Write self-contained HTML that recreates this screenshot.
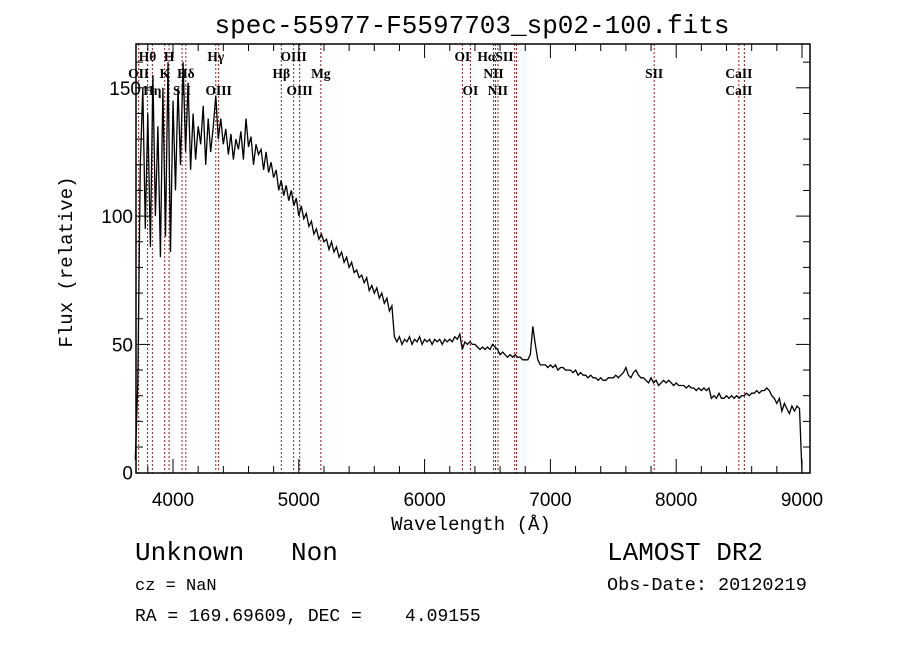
<!DOCTYPE html>
<html><head><meta charset="utf-8"><style>
html,body{margin:0;padding:0;background:#fff;}
svg{display:block;}
.mono{font-family:"Liberation Mono",monospace;}
.lbl{font-family:"Liberation Serif",serif;font-size:13.5px;fill:#000;font-weight:bold;}
</style></head><body>
<svg id="chart" width="900" height="649" viewBox="0 0 900 649" xmlns="http://www.w3.org/2000/svg">
<rect width="900" height="649" fill="#fff"/>
<text x="472" y="33" text-anchor="middle" class="mono" font-size="26">spec-55977-F5597703_sp02-100.fits</text>
<g id="lines"></g>
<g id="labels"></g>
<g id="series"></g>
<g id="axes"></g>
<text x="471" y="530" text-anchor="middle" class="mono" font-size="19">Wavelength (Å)</text>
<text x="0" y="0" transform="translate(72,262) rotate(-90)" text-anchor="middle" class="mono" font-size="19">Flux (relative)</text>
<text x="135" y="560" class="mono" font-size="26" style="white-space:pre">Unknown   Non</text>
<text x="135" y="590" class="mono" font-size="17" style="white-space:pre">cz = NaN</text>
<text x="135" y="621" class="mono" font-size="18" style="white-space:pre">RA = 169.69609, DEC =    4.09155</text>
<text x="607" y="560" class="mono" font-size="26">LAMOST DR2</text>
<text x="607" y="590" class="mono" font-size="18.5">Obs-Date: 20120219</text>
</svg>
<script>
const waveStart = 3700;
const waveStep = 20;
const flux = [5,35,120,150,95,140,88,155,100,135,84,150,92,160,86,
145,110,150,120,160,125,152,118,140,122,135,128,143,120,138,125,135,147,130,138,
128,134,124,132,122,130,126,133,122,138,127,131,120,128,124,126,118,125,117,121,115,118,110,114,108,112,106,110,104,107,
100,104,99,101,96,98,93,95,91,93,90,91,87,90,86,88,84,86,82,84,80,82,78,79,76,77,74,76,71,73,70,72,68,70,66,68,63,65,53,51,
53,50,52,51,53,50,52,51,53,50,52,51,52,50,52,51,52,50,52,51,52,51,53,52,54,48,51,50,51,50,
50,49,48,49,48,49,48,50,49,48,46,47,46,45,46,45,46,45,45,44,44,44,46,57,50,44,42,42,42,41,
42,41,42,40,41,41,40,40,40,39,40,38,39,38,38,37,38,37,37,36,37,36,36,37,37,37,38,37,38,39,
41,38,37,39,40,38,37,37,36,35,37,35,36,34,35,36,35,36,35,34,35,34,34,34,33,34,33,33,32,33,
32,33,32,33,29,30,29,31,29,29,30,29,30,29,30,29,30,30,31,30,31,31,32,31,32,32,33,32,30,29,
27,29,24,27,25,23,26,24,26,25,0];
const lineWaves = [3727,3798,3836,3934,3969,4072,4102,4340,4363,4861,4959,5007,5175,6300,6364,6548,6563,6583,6716,6731,7825,8498,8542];
const labelText = ["Hθ","H","Hγ","OIII","OI","HαSII","OII","K","Hδ","Hβ","Mg","NII","SII","CaII","Hη","SII","OIII","OIII","OI","NII","CaII"];
const labelWave = [3798,3969,4340,4959,6300,6563,3727,3934,4102,4861,5175,6548,7825,8498,3836,4072,4363,5007,6364,6583,8498];
const labelRow = [0,0,0,0,0,0,1,1,1,1,1,1,1,1,2,2,2,2,2,2,2];
const xTicks = [4000,5000,6000,7000,8000,9000];
const yTicks = [0,50,100,150];

const L=136,R=810,T=44,B=473;
const X=w=>173+(w-4000)*0.1258;
const Y=f=>472.7-f*2.566;
const NS="http://www.w3.org/2000/svg";
function mk(t,a,p){const e=document.createElementNS(NS,t);for(const k in a)e.setAttribute(k,a[k]);p.appendChild(e);return e;}

const gl=document.getElementById('lines');
lineWaves.forEach(w=>{
  const l=mk('line',{x1:X(w),x2:X(w),y1:T,y2:B,stroke:'#8b2020','stroke-width':1,'stroke-dasharray':'2,2'},gl);
  
  
});
const glb=document.getElementById('labels');
labelText.forEach((s,i)=>{
  const t=mk('text',{x:X(labelWave[i]),y:61+labelRow[i]*17,'text-anchor':'middle',class:'lbl'},glb);
  t.textContent=s;
  
  
});

let d='';
flux.forEach((f,i)=>{const w=waveStart+i*waveStep;d+=(i?'L':'M')+X(w).toFixed(1)+' '+Y(f).toFixed(1);});
const p=mk('path',{d:d,fill:'none',stroke:'#000','stroke-width':1.3},document.getElementById('series'));



const ga=document.getElementById('axes');
const fr=mk('rect',{x:L,y:T,width:R-L,height:B-T,fill:'none',stroke:'#000','stroke-width':1.5},ga);


for(let w=3800;w<=9000;w+=200){
  const maj=w%1000===0,len=maj?14:7;
  mk('line',{x1:X(w),x2:X(w),y1:B,y2:B-len,stroke:'#000'},ga);
  mk('line',{x1:X(w),x2:X(w),y1:T,y2:T+len,stroke:'#000'},ga);
}
for(let f=10;f<=160;f+=10){
  const maj=f%50===0,len=maj?14:7;
  mk('line',{x1:L,x2:L+len,y1:Y(f),y2:Y(f),stroke:'#000'},ga);
  mk('line',{x1:R,x2:R-len,y1:Y(f),y2:Y(f),stroke:'#000'},ga);
}
xTicks.forEach(v=>{
  const t=mk('text',{x:X(v),y:506,'text-anchor':'middle','font-family':'Liberation Sans, sans-serif','font-size':19},ga);
  t.textContent=v;
  
  
});
yTicks.forEach(v=>{
  const t=mk('text',{x:v===150?141:133,y:Y(v)+7,'text-anchor':'end','font-family':'Liberation Sans, sans-serif','font-size':19},ga);
  t.textContent=v;
  
  
});
</script>
</body></html>
